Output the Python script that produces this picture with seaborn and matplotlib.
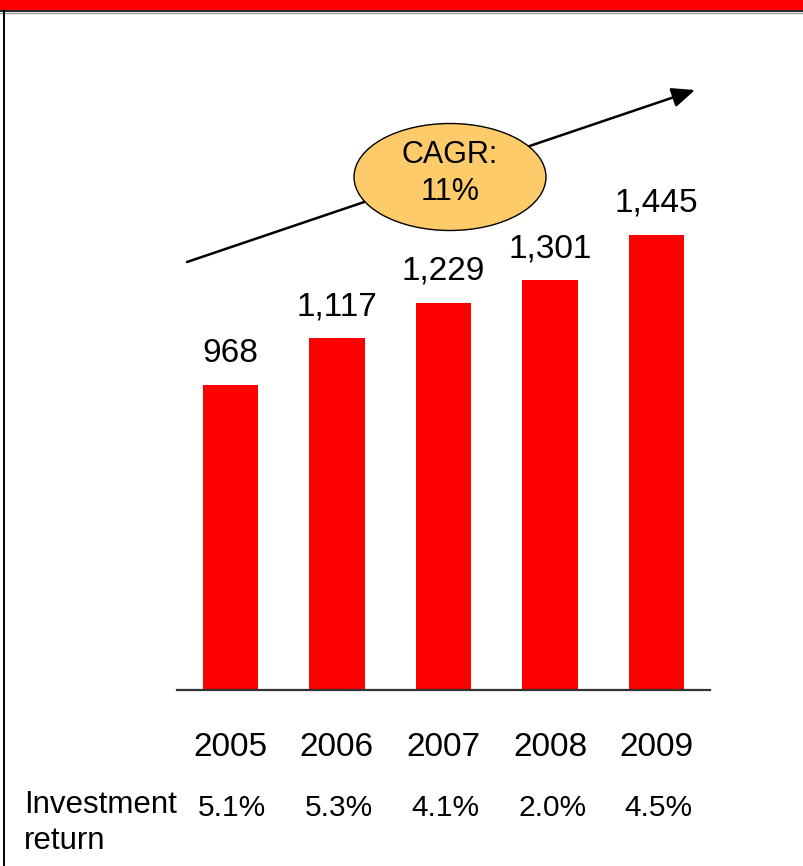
import matplotlib
matplotlib.use("Agg")
import matplotlib.pyplot as plt
import matplotlib.patches as mpatches
import matplotlib.transforms as mtransforms
import seaborn as sns
import pandas as pd

# Data
years = ["2005", "2006", "2007", "2008", "2009"]
values = [968, 1117, 1229, 1301, 1445]
value_labels = ["968", "1,117", "1,229", "1,301", "1,445"]
returns = ["5.1%", "5.3%", "4.1%", "2.0%", "4.5%"]
row_label = ["Investment", "return"]

sns.set_theme(style="white")
plt.rcParams["font.family"] = ["Liberation Sans", "DejaVu Sans"]

W, H = 804, 866
DPI = 100
fig = plt.figure(figsize=(W / DPI, H / DPI), dpi=DPI)
fig.patch.set_facecolor("white")


def fx(px):
    return px / W


def fy(py):
    return 1 - py / H


# Bar axes: baseline at y=690 px, 0.315 px per unit
y_top = 2000
ax_left, ax_right = 177, 710
ax_bottom_px = 690
ax_height_px = y_top * 0.315
ax = fig.add_axes([fx(ax_left), fy(ax_bottom_px), (ax_right - ax_left) / W, ax_height_px / H])

df = pd.DataFrame({"year": years, "value": values})
sns.barplot(data=df, x="year", y="value", color="#FF0000", saturation=1,
            width=0.52, ax=ax, edgecolor="none")
ax.set_xlim(-0.5, 4.5)
ax.set_ylim(0, y_top)
ax.set_facecolor("none")
ax.set_xlabel("")
ax.set_ylabel("")
ax.set_yticks([])
for s in ["top", "left", "right"]:
    ax.spines[s].set_visible(False)
ax.spines["bottom"].set_color("#333333")
ax.spines["bottom"].set_linewidth(1.6)
ax.tick_params(axis="x", length=0, pad=30, labelsize=24, labelcolor="black")

# Value labels above bars
for i, (v, lab) in enumerate(zip(values, value_labels)):
    ax.annotate(lab, xy=(i, v), xytext=(0, 16.5), textcoords="offset points",
                ha="center", va="baseline", fontsize=24, color="black")

# Investment return row
trans = mtransforms.blended_transform_factory(ax.transData, fig.transFigure)
for i, r in enumerate(returns):
    ax.text(i + 0.02, fy(816), r, transform=trans, ha="center", va="baseline",
            fontsize=21.5, color="black")
fig.text(fx(24), fy(813), row_label[0], ha="left", va="baseline", fontsize=22.5, color="black")
fig.text(fx(24), fy(849), row_label[1], ha="left", va="baseline", fontsize=22.5, color="black")

# Growth arrow with CAGR bubble
fig.add_artist(mpatches.FancyArrowPatch(
    (fx(187), fy(262)), (fx(695), fy(90)), transform=fig.transFigure,
    arrowstyle="-|>,head_length=14,head_width=6", mutation_scale=1,
    color="black", lw=1.8, shrinkA=0, shrinkB=0, zorder=3))
fig.add_artist(mpatches.Ellipse((fx(450), fy(177)), 192 / W, 107 / H,
                                transform=fig.transFigure, facecolor="#FDCB69",
                                edgecolor="black", lw=1.0, zorder=4))
fig.text(fx(450), fy(155), "CAGR:", ha="center", va="center", fontsize=22,
         color="black", zorder=5)
fig.text(fx(450), fy(192), "11%", ha="center", va="center", fontsize=22,
         color="black", zorder=5)

# Page frame: red header band and left rule
fig.add_artist(mpatches.Rectangle((0, fy(10)), 1, 10 / H, transform=fig.transFigure,
                                  facecolor="#FF0000", edgecolor="none", zorder=1))
fig.add_artist(plt.Line2D([0, 1], [fy(10.5), fy(10.5)], transform=fig.transFigure,
                          color="black", lw=1.2))
fig.add_artist(plt.Line2D([0, 1], [fy(12.5), fy(12.5)], transform=fig.transFigure,
                          color="#999999", lw=1.0))
fig.add_artist(plt.Line2D([fx(4.5), fx(4.5)], [fy(10), 0], transform=fig.transFigure,
                          color="black", lw=1.4))

fig.savefig("out.png", dpi=DPI)
